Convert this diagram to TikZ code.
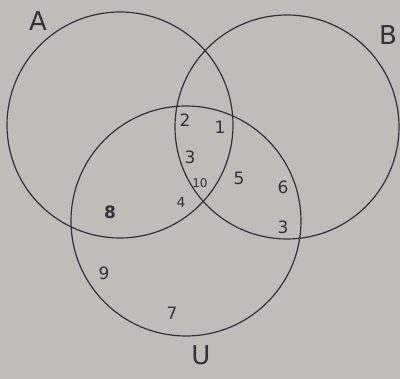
\documentclass[tikz,border=0pt]{standalone}
\usepackage{fontspec}
\setmainfont{DejaVu Sans}
\definecolor{paper}{RGB}{192,188,183}
\definecolor{ink}{RGB}{50,50,60}
\begin{document}
\begin{tikzpicture}[x=1pt,y=-1pt,
  setc/.style={draw=ink,line width=1.2pt},
  num/.style={text=ink,font=\fontsize{17}{20}\selectfont,inner sep=0pt},
  lab/.style={text=ink,font=\fontsize{26}{30}\selectfont,inner sep=0pt}]
\fill[paper] (0,0) rectangle (400,379);
\useasboundingbox (0,0) rectangle (400,379);
\node[setc,circle,minimum size=226pt,inner sep=0pt] (A) at (120,125) {};
\node[setc,circle,minimum size=224pt,inner sep=0pt] (B) at (287,127) {};
\node[setc,circle,minimum size=230pt,inner sep=0pt] (U) at (186,221) {};
\node[lab] (la) at (38,21) {A};
\node[lab] (lb) at (388,35) {B};
\node[lab] (lu) at (201,355) {U};
\node[num] (n2) at (185,120) {2};
\node[num] (n1) at (220,127) {1};
\node[num] (n3a) at (190,157) {3};
\node[num,font=\fontsize{12}{14}\selectfont] (n10) at (200,183) {10};
\node[num,font=\fontsize{14}{16}\selectfont] (n4) at (181,202) {4};
\node[num] (n5) at (239,178) {5};
\node[num] (n6) at (283,187) {6};
\node[num] (n3b) at (283,227) {3};
\node[num,font=\fontsize{17}{20}\bfseries] (n8) at (110,212) {8};
\node[num] (n9) at (104,273) {9};
\node[num] (n7) at (172,313) {7};
\end{tikzpicture}
\end{document}
